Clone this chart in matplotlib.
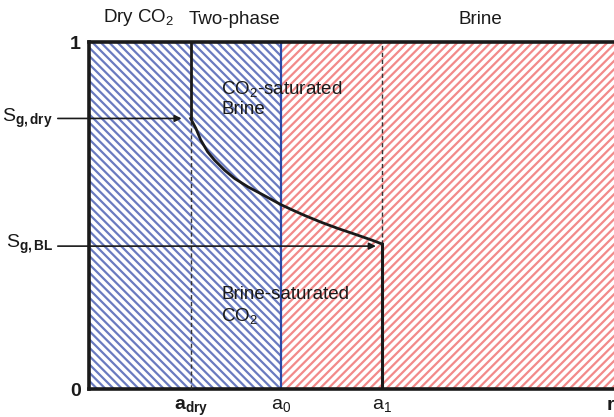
import matplotlib
matplotlib.use("Agg")
import matplotlib.pyplot as plt
from matplotlib.patches import Rectangle

plt.rcParams['font.family'] = ['Liberation Sans', 'DejaVu Sans']
plt.rcParams['mathtext.fontset'] = 'custom'
plt.rcParams['mathtext.rm'] = 'Liberation Sans'
plt.rcParams['mathtext.bf'] = 'Liberation Sans:bold'
plt.rcParams['mathtext.it'] = 'Liberation Sans:italic'
plt.rcParams['hatch.linewidth'] = 1.6

# key positions (fraction of radial axis) and saturations
a_dry = 0.192
a_0 = 0.362
a_1 = 0.554
r_end = 1.0
Sg_dry = 0.780
Sg_BL = 0.418

# saturation profile between a_dry and a_1
curve_x = [0.192, 0.202, 0.211, 0.224, 0.237, 0.256, 0.275, 0.300, 0.326,
           0.362, 0.383, 0.408, 0.440, 0.472, 0.503, 0.535, 0.554]
curve_y = [0.780, 0.751, 0.718, 0.684, 0.660, 0.631, 0.607, 0.583, 0.562,
           0.532, 0.517, 0.500, 0.480, 0.462, 0.446, 0.429, 0.418]

region_labels = ['Dry CO$_2$', 'Two-phase', 'Brine']
region_centers = [0.093, 0.275, 0.74]
xtick_pos = [a_dry, a_0, a_1, r_end]
xtick_labels = [r'$\mathbf{a_{dry}}$', r'$\mathrm{a_0}$', r'$\mathrm{a_1}$', r'$\mathbf{r}$']

fig = plt.figure(figsize=(6.14, 4.17), dpi=100)
ax = fig.add_axes([0.145, 0.067, 0.862, 0.832])
ax.set_xlim(0, 1.0)
ax.set_ylim(0, 1)

blue = '#6a7bc0'
red = '#f28a8a'
ax.add_patch(Rectangle((0, 0), a_0, 1, facecolor='white', edgecolor=blue,
                       hatch='\\\\\\\\', linewidth=0, zorder=0))
ax.add_patch(Rectangle((a_0, 0), r_end - a_0, 1, facecolor='white', edgecolor=red,
                       hatch='////', linewidth=0, zorder=0))
ax.axvline(a_0, color='#2d4aa8', lw=1.6, zorder=2)

# saturation profile
ax.plot([a_dry, a_dry], [1, Sg_dry], color='#1a1a1a', lw=2, zorder=4)
ax.plot(curve_x, curve_y, color='#1a1a1a', lw=2, zorder=4)
ax.plot([a_1, a_1], [Sg_BL, 0], color='#1a1a1a', lw=2.2, zorder=4)
ax.plot([a_dry, a_dry], [0, Sg_dry], color='#333333', lw=1, ls=(0, (3, 2)), zorder=3)
ax.plot([a_1, a_1], [Sg_BL, 1], color='#333333', lw=1, ls=(0, (3, 2)), zorder=3)

# arrows
ax.annotate('', xy=(a_dry - 0.017, Sg_dry), xytext=(-0.059, Sg_dry),
            xycoords='data', textcoords='data', annotation_clip=False,
            arrowprops=dict(arrowstyle='-|>', color='#1a1a1a', lw=1.2,
                            mutation_scale=10, shrinkA=0, shrinkB=0))
ax.annotate('', xy=(a_1 - 0.012, Sg_BL - 0.006), xytext=(-0.059, Sg_BL - 0.006),
            xycoords='data', textcoords='data', annotation_clip=False,
            arrowprops=dict(arrowstyle='-|>', color='#1a1a1a', lw=1.2,
                            mutation_scale=10, shrinkA=0, shrinkB=0))
ax.text(-0.068, Sg_dry, r'S$_{\mathbf{g,dry}}$', ha='right', va='center', fontsize=14,
        color='#1a1a1a')
ax.text(-0.068, Sg_BL, r'S$_{\mathbf{g,BL}}$', ha='right', va='center', fontsize=14,
        color='#1a1a1a')

# annotations
ax.text(0.25, 0.838, 'CO$_2$-saturated\nBrine', ha='left', va='center', fontsize=13.5,
        color='#1a1a1a', linespacing=1.2, zorder=5)
ax.text(0.25, 0.24, 'Brine-saturated\nCO$_2$', ha='left', va='center', fontsize=13.5,
        color='#1a1a1a', linespacing=1.2, zorder=5)

for lab, xc in zip(region_labels, region_centers):
    ax.text(xc, 1.04, lab, ha='center', va='bottom', fontsize=13.5,
            color='#1a1a1a', transform=ax.transAxes)

ax.set_xticks(xtick_pos)
ax.set_xticklabels(xtick_labels, fontsize=14, color='#1a1a1a')
rlab = ax.get_xticklabels()[-1]
rlab.set_horizontalalignment('right')
ax.set_yticks([0, 1])
ax.set_yticklabels(['0', '1'], fontsize=14, color='#1a1a1a', fontweight='bold')
ax.tick_params(axis='x', length=0, pad=6)
ax.tick_params(axis='y', length=0, pad=6)

for s in ['left', 'bottom', 'top']:
    ax.spines[s].set_linewidth(2.6)
    ax.spines[s].set_color('#1a1a1a')
ax.spines['right'].set_visible(False)

# keep the trailing "r" label just inside the figure edge
import matplotlib.transforms as mtransforms
rlab.set_transform(rlab.get_transform() + mtransforms.ScaledTranslation(-3 / 100, 0, fig.dpi_scale_trans))

fig.savefig('out.png', dpi=100)
